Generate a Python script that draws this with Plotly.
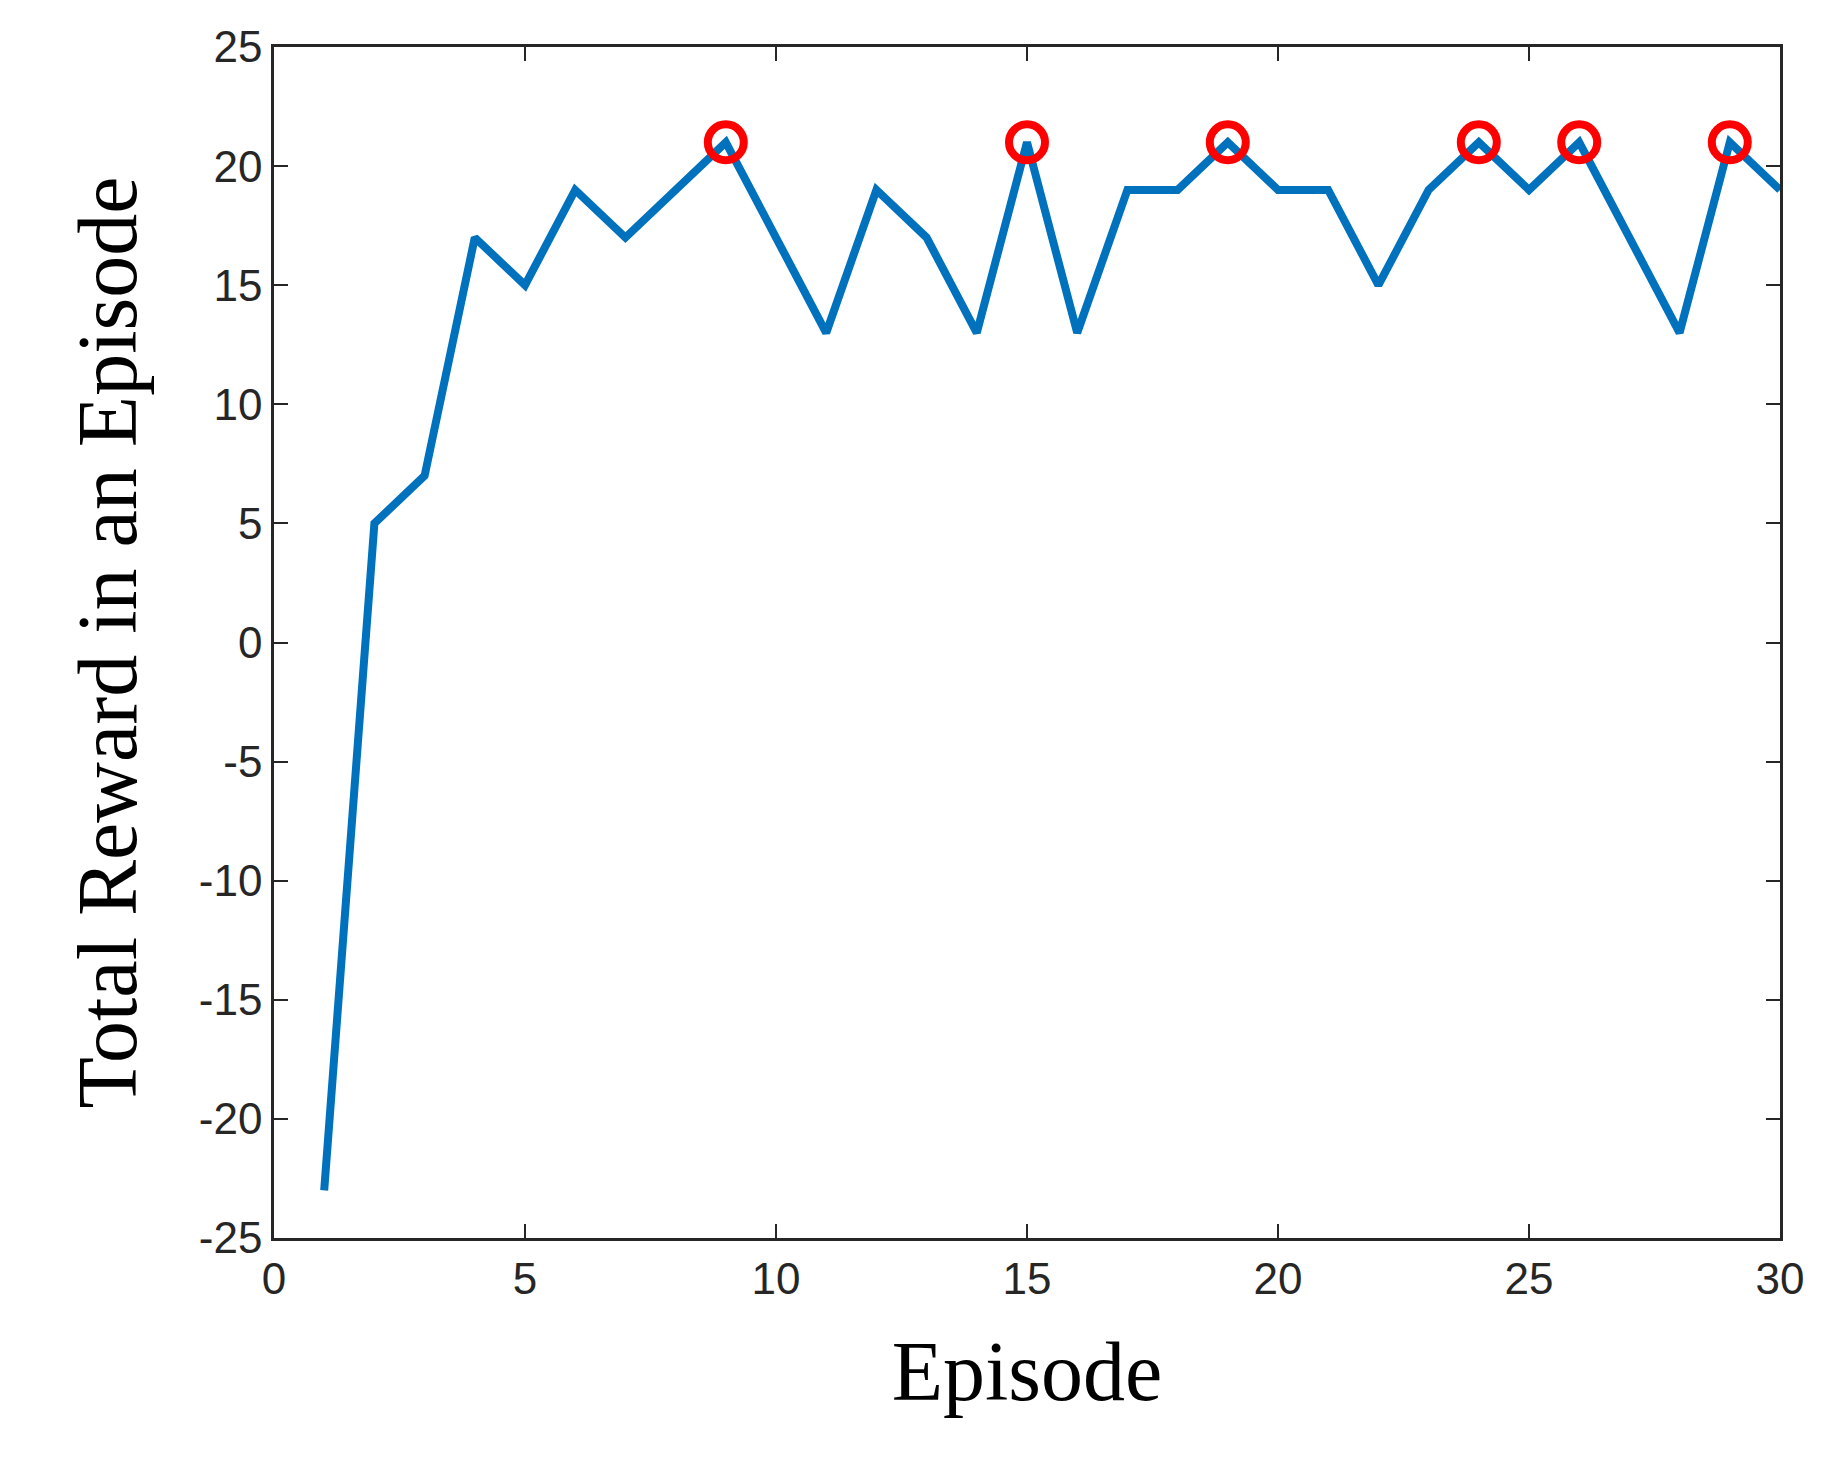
import plotly.graph_objects as go

episodes = list(range(1, 31))
rewards = [-23, 5, 7, 17, 15, 19, 17, 19, 21, 17, 13, 19, 17, 13, 21, 13, 19, 19, 21, 19,
           19, 15, 19, 21, 19, 21, 17, 13, 21, 19]
peak_episodes = [9, 15, 19, 24, 26, 29]
peak_rewards = [21, 21, 21, 21, 21, 21]
y_ticks = [-25, -20, -15, -10, -5, 0, 5, 10, 15, 20, 25]
y_tick_labels = ["-25", "-20", "-15", "-10", "-5", "0", "5", "10", "15", "20", "25"]

fig = go.Figure()
fig.add_trace(go.Scatter(x=episodes, y=rewards, mode="lines",
                         line=dict(color="#0072BD", width=8), showlegend=False))
fig.add_trace(go.Scatter(x=peak_episodes, y=peak_rewards, mode="markers",
                         marker=dict(symbol="circle-open", size=36, color="#FF0000",
                                     line=dict(width=8, color="#FF0000")),
                         showlegend=False))

ax = dict(showline=True, linecolor="#262626", linewidth=2.5, mirror="ticks",
          ticks="inside", ticklen=14, tickcolor="#262626", tickwidth=2,
          showgrid=False, zeroline=False,
          tickfont=dict(family="Arial, Liberation Sans", size=44, color="#262626"))
fig.update_xaxes(range=[0, 30], dtick=5,
                 title=dict(text="Episode", font=dict(family="Liberation Serif", size=84, color="black"),
                            standoff=40), **ax)
fig.update_yaxes(range=[-25, 25], tickvals=y_ticks, ticktext=y_tick_labels,
                 title=dict(text="Total Reward in an Episode", font=dict(family="Liberation Serif", size=84, color="black"),
                            standoff=35), **ax)
fig.update_layout(width=1825, height=1457, paper_bgcolor="white", plot_bgcolor="white",
                  margin=dict(l=266, r=53, t=39, b=227))
fig.write_html("out.html")
